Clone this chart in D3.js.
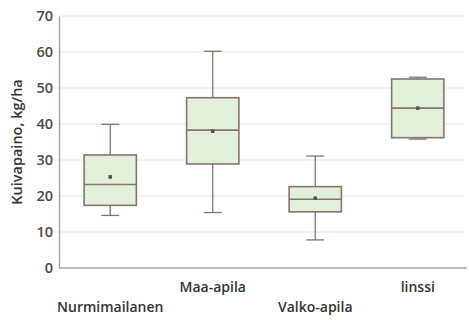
<!DOCTYPE html>
<html>
<head>
<meta charset="utf-8">
<script src="https://cdn.jsdelivr.net/npm/d3@7"></script>
<style>
  html, body { margin: 0; padding: 0; background: #fff; }
  svg { display: block; }
  text { font-family: "Open Sans", "Liberation Sans", sans-serif; }
</style>
</head>
<body>
<svg id="chart" width="469" height="320"></svg>
<script>
// Dry matter yield per legume species (box plot summary)
const categories = ["Nurmimailanen", "Maa-apila", "Valko-apila", "linssi"];
const whiskerLow  = [14.6, 15.4,  7.8, 35.8];
const quartile1   = [17.4, 28.9, 15.6, 36.2];
const medians     = [23.2, 38.3, 19.1, 44.4];
const quartile3   = [31.4, 47.3, 22.6, 52.5];
const whiskerHigh = [39.9, 60.2, 31.1, 53.0];
const means       = [25.3, 38.0, 19.4, 44.4];
const yTicks      = [0, 10, 20, 30, 40, 50, 60, 70];
const yTitle      = "Kuivapaino, kg/ha";

const svg = d3.select("#chart");
const margin = { left: 59, right: 0, top: 16, bottom: 52 };
const W = 469, H = 320;

const x = d3.scaleBand()
  .domain(categories)
  .range([margin.left, W - margin.right])
  .paddingInner(0).paddingOuter(0);

const y = d3.scaleLinear()
  .domain([0, 70])
  .range([H - margin.bottom, margin.top]);

const gridRight = 464;
const edge = "#85736e";

// horizontal grid lines
svg.append("g")
  .selectAll("line")
  .data(yTicks.filter(t => t > 0))
  .join("line")
  .attr("x1", margin.left).attr("x2", gridRight)
  .attr("y1", d => y(d)).attr("y2", d => y(d))
  .attr("stroke", "#eadede").attr("stroke-width", 1.2);

// y axis
const yAxis = svg.append("g")
  .attr("transform", `translate(${margin.left},0)`)
  .call(d3.axisLeft(y).tickValues(yTicks).tickSize(0).tickPadding(6));
yAxis.select(".domain").attr("stroke", "#a89c98").attr("stroke-width", 1.3);
yAxis.selectAll("text")
  .attr("font-size", 14.5).attr("font-weight", 600).attr("fill", "#4a4a4a")
  .style("font-family", "'Open Sans', sans-serif");

// x baseline
svg.append("line")
  .attr("x1", margin.left).attr("x2", 467)
  .attr("y1", y(0)).attr("y2", y(0))
  .attr("stroke", "#b0a4a0").attr("stroke-width", 1.5);

// y title
svg.append("text")
  .attr("transform", `translate(22,${(y(0) + y(70)) / 2}) rotate(-90)`)
  .attr("text-anchor", "middle")
  .attr("font-size", 14.5).attr("font-weight", 600).attr("fill", "#333")
  .text(yTitle);

// boxes
const boxW = x.bandwidth() * 0.51;
const capW = 18;
const rows = categories.map((c, i) => ({
  c, lo: whiskerLow[i], q1: quartile1[i], med: medians[i],
  q3: quartile3[i], hi: whiskerHigh[i], mean: means[i]
}));

const g = svg.append("g")
  .selectAll("g")
  .data(rows)
  .join("g")
  .attr("transform", d => `translate(${x(d.c) + x.bandwidth() / 2},0)`);

// whisker stems
g.append("line")
  .attr("x1", 0).attr("x2", 0)
  .attr("y1", d => y(d.hi)).attr("y2", d => y(d.q3))
  .attr("stroke", edge).attr("stroke-width", 1.3);
g.append("line")
  .attr("x1", 0).attr("x2", 0)
  .attr("y1", d => y(d.q1)).attr("y2", d => y(d.lo))
  .attr("stroke", edge).attr("stroke-width", 1.3);
// whisker caps
g.append("line")
  .attr("x1", -capW / 2).attr("x2", capW / 2)
  .attr("y1", d => y(d.hi)).attr("y2", d => y(d.hi))
  .attr("stroke", edge).attr("stroke-width", 1.3);
g.append("line")
  .attr("x1", -capW / 2).attr("x2", capW / 2)
  .attr("y1", d => y(d.lo)).attr("y2", d => y(d.lo))
  .attr("stroke", edge).attr("stroke-width", 1.3);

// interquartile box
g.append("rect")
  .attr("x", -boxW / 2).attr("width", boxW)
  .attr("y", d => y(d.q3)).attr("height", d => y(d.q1) - y(d.q3))
  .attr("fill", "#e2f0d9").attr("stroke", edge).attr("stroke-width", 1.6);

// median
g.append("line")
  .attr("x1", -boxW / 2).attr("x2", boxW / 2)
  .attr("y1", d => y(d.med)).attr("y2", d => y(d.med))
  .attr("stroke", edge).attr("stroke-width", 1.6);

// mean marker
g.append("rect")
  .attr("x", -1.8).attr("width", 3.6)
  .attr("y", d => y(d.mean) - 1.8).attr("height", 3.6)
  .attr("fill", "#555");

// category labels, staggered on two rows
svg.append("g")
  .selectAll("text")
  .data(categories)
  .join("text")
  .attr("x", d => x(d) + x.bandwidth() / 2)
  .attr("y", (d, i) => i % 2 === 0 ? 312 : 292)
  .attr("text-anchor", "middle")
  .attr("font-size", 14).attr("font-weight", 600).attr("fill", "#333")
  .text(d => d);
</script>
</body>
</html>
